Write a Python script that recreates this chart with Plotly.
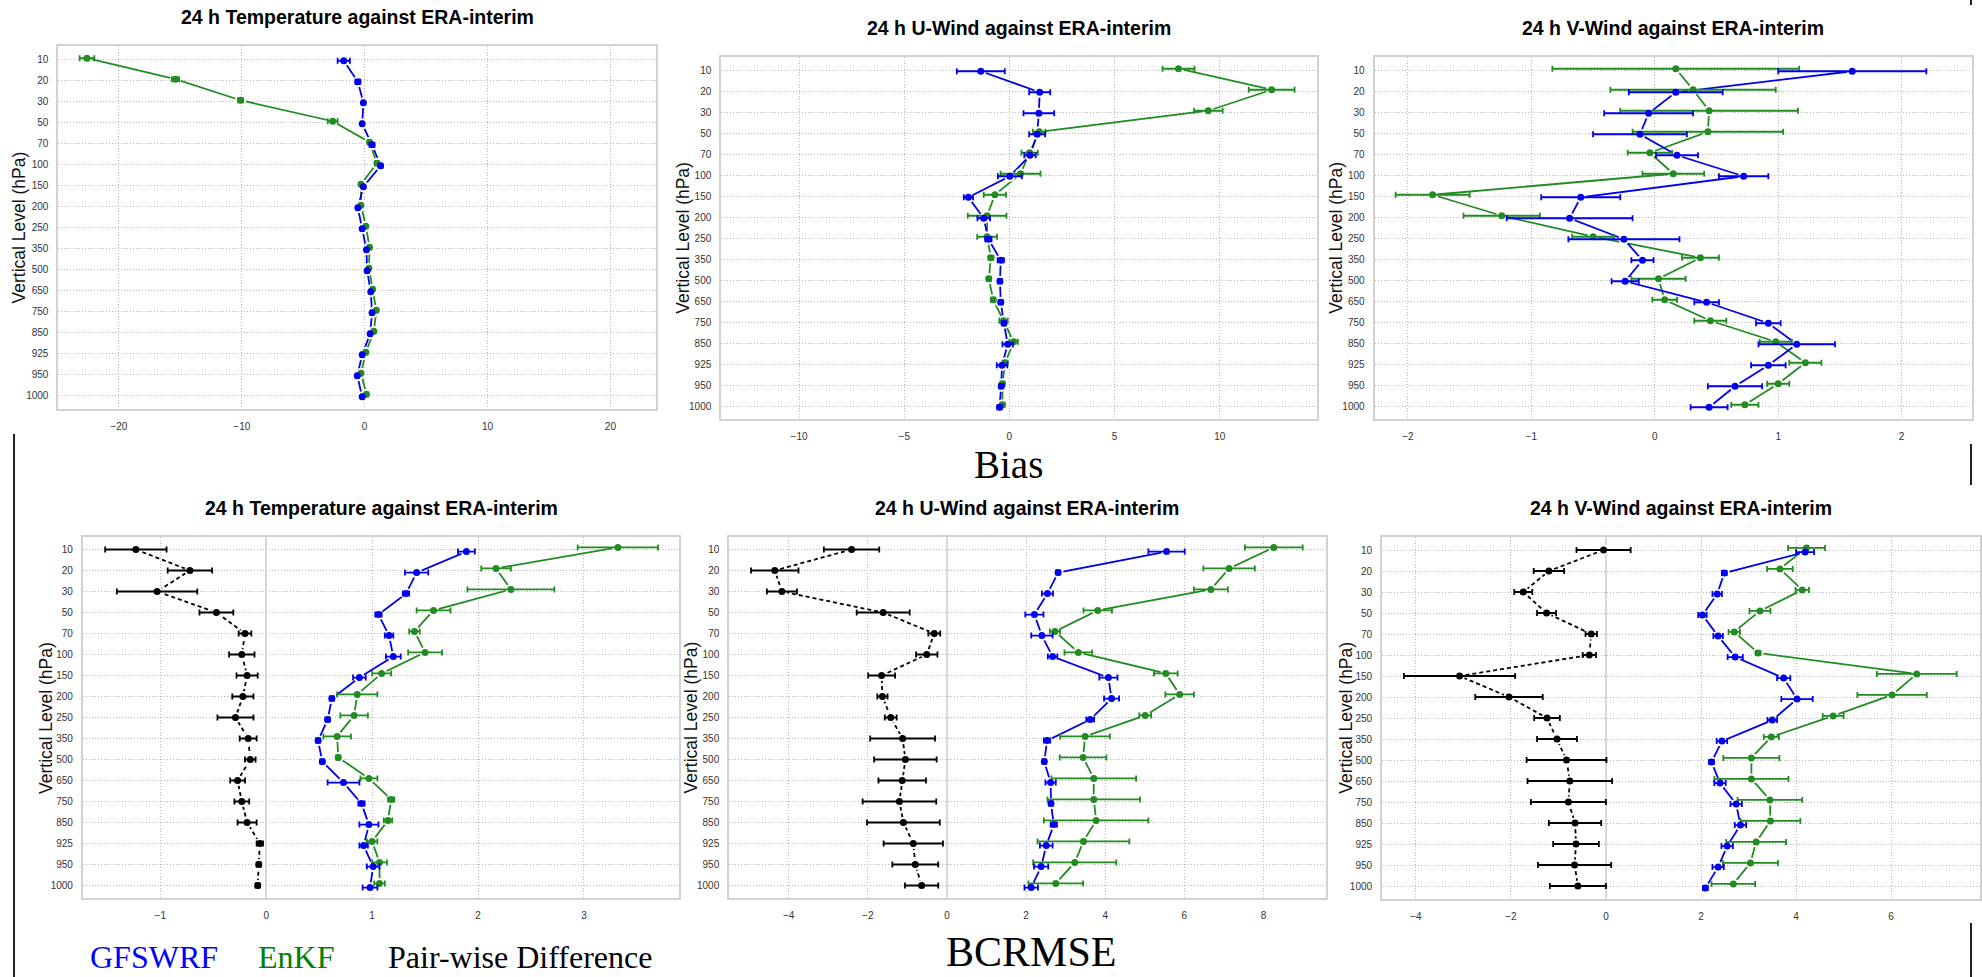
import plotly.graph_objects as go

levels = [10, 20, 30, 50, 70, 100, 150, 200, 250, 350, 500, 650, 750, 850, 925, 950, 1000]

# ---------- Bias ----------
t_bias_gfs = [-1.7, -0.55, -0.1, -0.2, 0.6, 1.3, -0.1, -0.55, -0.2, 0.15, 0.2, 0.5, 0.6, 0.45, -0.2, -0.6, -0.2]
t_bias_gfs_err = [0.5, 0.2, 0.1, 0.1, 0.2, 0.15, 0.1, 0.1, 0.1, 0.1, 0.1, 0.1, 0.1, 0.1, 0.1, 0.1, 0.1]
t_bias_enkf = [-22.6, -15.4, -10.1, -2.6, 0.4, 1.0, -0.3, -0.3, 0.1, 0.4, 0.35, 0.65, 0.95, 0.75, 0.1, -0.3, 0.15]
t_bias_enkf_err = [0.6, 0.3, 0.2, 0.4, 0.15, 0.15, 0.1, 0.1, 0.1, 0.1, 0.1, 0.1, 0.1, 0.1, 0.1, 0.1, 0.1]

u_bias_gfs = [-1.36, 1.44, 1.40, 1.32, 0.98, 0.02, -1.95, -1.22, -1.0, -0.41, -0.45, -0.41, -0.26, -0.08, -0.35, -0.39, -0.47]
u_bias_gfs_err = [1.14, 0.5, 0.73, 0.38, 0.27, 0.57, 0.22, 0.3, 0.15, 0.15, 0.1, 0.1, 0.1, 0.25, 0.25, 0.1, 0.1]
u_bias_enkf = [8.04, 12.47, 9.46, 1.42, 0.96, 0.53, -0.69, -1.06, -1.06, -0.88, -0.98, -0.77, -0.28, 0.2, -0.2, -0.33, -0.33]
u_bias_enkf_err = [0.76, 1.09, 0.68, 0.3, 0.39, 0.95, 0.53, 0.92, 0.47, 0.12, 0.1, 0.1, 0.2, 0.2, 0.12, 0.1, 0.1]

v_bias_gfs = [1.60, 0.17, -0.05, -0.12, 0.18, 0.72, -0.60, -0.69, -0.25, -0.10, -0.24, 0.42, 0.92, 1.15, 0.92, 0.65, 0.44]
v_bias_gfs_err = [0.60, 0.38, 0.36, 0.38, 0.17, 0.20, 0.32, 0.51, 0.45, 0.09, 0.11, 0.10, 0.10, 0.31, 0.14, 0.22, 0.15]
v_bias_enkf = [0.17, 0.31, 0.44, 0.43, -0.04, 0.15, -1.80, -1.24, -0.50, 0.37, 0.03, 0.08, 0.45, 0.98, 1.22, 1.0, 0.73]
v_bias_enkf_err = [1.0, 0.67, 0.72, 0.61, 0.18, 0.25, 0.30, 0.31, 0.17, 0.15, 0.22, 0.1, 0.13, 0.13, 0.13, 0.09, 0.11]

# ---------- BCRMSE ----------
t_rmse_gfs = [1.89, 1.42, 1.32, 1.06, 1.16, 1.20, 0.88, 0.62, 0.58, 0.49, 0.53, 0.73, 0.90, 0.97, 0.92, 1.01, 0.98]
t_rmse_gfs_err = [0.08, 0.11, 0.03, 0.03, 0.04, 0.07, 0.06, 0.02, 0.02, 0.02, 0.02, 0.15, 0.03, 0.09, 0.04, 0.06, 0.07]
t_rmse_enkf = [3.32, 2.17, 2.31, 1.58, 1.40, 1.50, 1.09, 0.86, 0.83, 0.67, 0.68, 0.97, 1.18, 1.15, 1.00, 1.07, 1.07]
t_rmse_enkf_err = [0.38, 0.14, 0.41, 0.16, 0.05, 0.16, 0.09, 0.19, 0.13, 0.13, 0.02, 0.08, 0.03, 0.04, 0.05, 0.07, 0.05]
t_rmse_diff = [-1.23, -0.72, -1.03, -0.47, -0.20, -0.23, -0.18, -0.22, -0.29, -0.17, -0.15, -0.27, -0.23, -0.18, -0.06, -0.07, -0.08]
t_rmse_diff_err = [0.29, 0.21, 0.38, 0.16, 0.06, 0.12, 0.10, 0.10, 0.17, 0.08, 0.05, 0.07, 0.07, 0.09, 0.03, 0.02, 0.02]

u_rmse_gfs = [5.55, 2.81, 2.54, 2.21, 2.40, 2.67, 4.08, 4.16, 3.62, 2.53, 2.46, 2.62, 2.63, 2.70, 2.51, 2.38, 2.13]
u_rmse_gfs_err = [0.46, 0.05, 0.14, 0.23, 0.27, 0.12, 0.23, 0.19, 0.10, 0.08, 0.05, 0.13, 0.05, 0.08, 0.16, 0.18, 0.17]
u_rmse_enkf = [8.26, 7.13, 6.67, 3.81, 2.73, 3.32, 5.53, 5.88, 5.01, 3.49, 3.44, 3.71, 3.71, 3.77, 3.45, 3.23, 2.75]
u_rmse_enkf_err = [0.73, 0.65, 0.43, 0.36, 0.13, 0.35, 0.30, 0.36, 0.15, 0.63, 0.59, 1.07, 1.17, 1.32, 1.16, 1.05, 0.69]
u_rmse_diff = [-2.41, -4.35, -4.17, -1.61, -0.32, -0.51, -1.65, -1.63, -1.42, -1.12, -1.05, -1.13, -1.20, -1.10, -0.85, -0.80, -0.64]
u_rmse_diff_err = [0.70, 0.60, 0.38, 0.67, 0.15, 0.27, 0.34, 0.13, 0.15, 0.82, 0.79, 0.60, 0.93, 0.92, 0.75, 0.58, 0.42]

v_rmse_gfs = [4.19, 2.49, 2.34, 2.03, 2.36, 2.72, 3.74, 4.02, 3.50, 2.44, 2.22, 2.40, 2.74, 2.83, 2.55, 2.36, 2.09]
v_rmse_gfs_err = [0.19, 0.05, 0.10, 0.09, 0.10, 0.16, 0.14, 0.33, 0.10, 0.11, 0.05, 0.12, 0.12, 0.12, 0.12, 0.12, 0.05]
v_rmse_enkf = [4.22, 3.66, 4.13, 3.24, 2.70, 3.20, 6.54, 6.02, 4.78, 3.48, 3.06, 3.06, 3.45, 3.46, 3.16, 3.04, 2.68]
v_rmse_enkf_err = [0.39, 0.27, 0.14, 0.22, 0.12, 0.05, 0.84, 0.73, 0.22, 0.16, 0.59, 0.78, 0.68, 0.63, 0.63, 0.58, 0.46]
v_rmse_diff = [-0.05, -1.20, -1.74, -1.25, -0.31, -0.35, -3.08, -2.04, -1.24, -1.03, -0.83, -0.76, -0.79, -0.65, -0.63, -0.66, -0.59]
v_rmse_diff_err = [0.57, 0.32, 0.19, 0.20, 0.12, 0.14, 1.17, 0.71, 0.27, 0.42, 0.84, 0.89, 0.79, 0.55, 0.48, 0.77, 0.59]

titles = ["24 h Temperature against ERA-interim", "24 h U-Wind against ERA-interim",
          "24 h V-Wind against ERA-interim"] * 2
y_title = "Vertical Level (hPa)"

# ---------- styling / layout ----------
W, H = 1982, 977
BLUE, GREEN, BLACK = "#0000ee", "#228b22", "#000000"
SPACING = 21.0

panels = [
    dict(frame=(58.5, 657, 46, 409), xr=(-24.92, 23.74), dtick=10, title_y=17.5, yt_x=19,
         series=[(t_bias_enkf, t_bias_enkf_err, GREEN, -0.06, "solid"),
                 (t_bias_gfs, t_bias_gfs_err, BLUE, 0.06, "solid")], zero=False),
    dict(frame=(722, 1318, 57, 419), xr=(-13.7, 14.61), dtick=5, title_y=28, yt_x=683.5,
         series=[(u_bias_enkf, u_bias_enkf_err, GREEN, -0.06, "solid"),
                 (u_bias_gfs, u_bias_gfs_err, BLUE, 0.06, "solid")], zero=False),
    dict(frame=(1376, 1974, 57, 419), xr=(-2.27, 2.57), dtick=1, title_y=28, yt_x=1337,
         series=[(v_bias_enkf, v_bias_enkf_err, GREEN, -0.06, "solid"),
                 (v_bias_gfs, v_bias_gfs_err, BLUE, 0.06, "solid")], zero=False),
    dict(frame=(83, 680, 537, 898), xr=(-1.73, 3.90), dtick=1, title_y=508, yt_x=45.5,
         series=[(t_rmse_diff, t_rmse_diff_err, BLACK, 0.0, "4px,3px"),
                 (t_rmse_enkf, t_rmse_enkf_err, GREEN, -0.1, "solid"),
                 (t_rmse_gfs, t_rmse_gfs_err, BLUE, 0.1, "solid")], zero=True),
    dict(frame=(730, 1327, 537, 898), xr=(-5.50, 9.57), dtick=2, title_y=508, yt_x=690.7,
         series=[(u_rmse_diff, u_rmse_diff_err, BLACK, 0.0, "4px,3px"),
                 (u_rmse_enkf, u_rmse_enkf_err, GREEN, -0.1, "solid"),
                 (u_rmse_gfs, u_rmse_gfs_err, BLUE, 0.1, "solid")], zero=True),
    dict(frame=(1383.5, 1982, 537, 899), xr=(-4.71, 7.87), dtick=2, title_y=508, yt_x=1347,
         series=[(v_rmse_diff, v_rmse_diff_err, BLACK, 0.0, "4px,3px"),
                 (v_rmse_enkf, v_rmse_enkf_err, GREEN, -0.1, "solid"),
                 (v_rmse_gfs, v_rmse_gfs_err, BLUE, 0.1, "solid")], zero=True),
]

fig = go.Figure()
annotations = []
idx = list(range(len(levels)))

for i, p in enumerate(panels):
    n = "" if i == 0 else str(i + 1)
    xa, ya = "x" + n, "y" + n
    x0, x1, y0, y1 = p["frame"]
    nlev = (y1 - y0) / SPACING
    pad = (nlev - (len(levels) - 1)) / 2
    common_grid = dict(showgrid=True, gridcolor="#b8b8b8", griddash="1px,2px", gridwidth=1,
                       showline=True, mirror=True, linecolor="#d2d2d2", linewidth=2,
                       ticks="", tickfont=dict(family="Liberation Sans, Arial", size=10, color="#333333"))
    fig.layout["xaxis" + n] = dict(domain=[x0 / W, x1 / W], range=list(p["xr"]), anchor=ya,
                                   dtick=p["dtick"], tick0=0, zeroline=p["zero"],
                                   zerolinecolor="#d8d8d8", zerolinewidth=1.5,
                                   ticklabelstandoff=7, **common_grid)
    fig.layout["yaxis" + n] = dict(domain=[1 - y1 / H, 1 - y0 / H],
                                   range=[len(levels) - 1 + pad, -pad], anchor=xa,
                                   tickvals=idx, ticktext=[str(l) for l in levels],
                                   zeroline=False, ticklabelstandoff=6, **common_grid)
    # lines
    for vals, err, col, off, dash in p["series"]:
        fig.add_trace(go.Scatter(x=vals, y=[k + off for k in idx], mode="lines",
                                 line=dict(color=col, width=1.8, dash=dash),
                                 xaxis=xa, yaxis=ya, showlegend=False, hoverinfo="skip"))
    # small gaps around points
    for vals, err, col, off, dash in p["series"]:
        fig.add_trace(go.Scatter(x=vals, y=[k + off for k in idx], mode="markers",
                                 marker=dict(color="white", size=11),
                                 xaxis=xa, yaxis=ya, showlegend=False, hoverinfo="skip"))
    # points with error bars
    for vals, err, col, off, dash in p["series"]:
        fig.add_trace(go.Scatter(x=vals, y=[k + off for k in idx], mode="markers",
                                 marker=dict(color=col, size=7),
                                 error_x=dict(type="data", array=err, visible=True,
                                              color=col, thickness=1.8, width=3),
                                 xaxis=xa, yaxis=ya, showlegend=False))
    annotations.append(dict(text="<b>" + titles[i] + "</b>", x=(x0 + x1) / 2 / W, y=1 - p["title_y"] / H,
                            xref="paper", yref="paper", xanchor="center", yanchor="middle",
                            showarrow=False, font=dict(family="Liberation Sans, Arial", size=19.5, color="black")))
    annotations.append(dict(text=y_title, x=p["yt_x"] / W, y=1 - (y0 + y1) / 2 / H, textangle=-90,
                            xref="paper", yref="paper", xanchor="center", yanchor="middle",
                            showarrow=False, font=dict(family="Liberation Sans, Arial", size=17.5, color="#111111")))

serif = "Liberation Serif, Times New Roman, serif"
annotations += [
    dict(text="Bias", x=1010 / W, y=1 - 464 / H, font=dict(family=serif, size=39, color="black")),
    dict(text="BCRMSE", x=1032 / W, y=1 - 952 / H, font=dict(family=serif, size=42, color="black")),
    dict(text="GFSWRF", x=154 / W, y=1 - 957 / H, font=dict(family=serif, size=32, color="#0000ff")),
    dict(text="EnKF", x=296 / W, y=1 - 957 / H, font=dict(family=serif, size=32, color="#008000")),
    dict(text="Pair-wise Difference", x=521 / W, y=1 - 957 / H, font=dict(family=serif, size=32, color="black")),
]
for a in annotations[-5:]:
    a.update(xref="paper", yref="paper", xanchor="center", yanchor="middle", showarrow=False)

shapes = []
for (sx, sy0, sy1) in [(14, 434, 977), (1973, 0, 5), (1973, 444, 485), (1973, 923, 977)]:
    shapes.append(dict(type="line", xref="paper", yref="paper", x0=sx / W, x1=sx / W,
                       y0=1 - sy0 / H, y1=1 - sy1 / H, line=dict(color="#222222", width=2)))

fig.update_layout(width=W, height=H, margin=dict(l=0, r=0, t=0, b=0),
                  paper_bgcolor="white", plot_bgcolor="white",
                  annotations=annotations, shapes=shapes, showlegend=False)

fig.write_html("out.html", config={"displayModeBar": False},
               post_script="document.body.style.margin='0';document.body.style.overflow='hidden';")
